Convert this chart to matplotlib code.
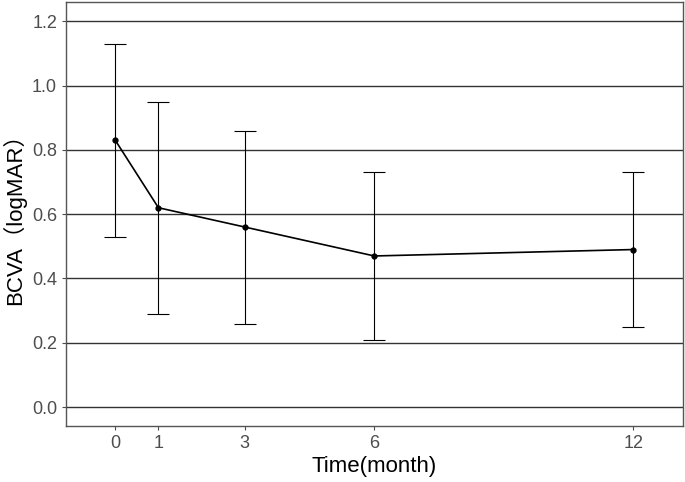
import matplotlib
matplotlib.use('Agg')
import matplotlib.pyplot as plt

plt.rcParams['font.family'] = ['Liberation Sans', 'Noto Sans CJK SC', 'DejaVu Sans']

#data
months = [0, 1, 3, 6, 12]
bcva_mean = [0.83, 0.62, 0.56, 0.47, 0.49]
bcva_upper = [1.13, 0.95, 0.86, 0.73, 0.73]
bcva_lower = [0.53, 0.29, 0.26, 0.21, 0.25]
y_ticks = [0.0, 0.2, 0.4, 0.6, 0.8, 1.0, 1.2]

err_low = [m - l for m, l in zip(bcva_mean, bcva_lower)]
err_up = [u - m for m, u in zip(bcva_mean, bcva_upper)]

#draw graph
fig = plt.figure(figsize=(6.85, 4.82), dpi=100)
ax = fig.add_axes([0.0964, 0.116, 0.9006, 0.88])

for y in y_ticks:
    ax.axhline(y, color='#333333', lw=1.0, zorder=1)

ax.errorbar(months, bcva_mean, yerr=[err_low, err_up], color='black',
            lw=1.2, elinewidth=0.8, capsize=8, capthick=0.8,
            marker='o', markersize=3.5, zorder=3)

ax.set_xlim(-1.14, 13.15)
ax.set_ylim(-0.059, 1.26)
ax.set_xticks(months)
ax.set_yticks(y_ticks)
ax.set_yticklabels([f'{v:.1f}' for v in y_ticks])
ax.tick_params(colors='#4d4d4d', labelcolor='#4d4d4d', labelsize=13, length=3, width=0.8)
for s in ax.spines.values():
    s.set_color('#555555')
    s.set_linewidth(1.0)

ax.set_xlabel('Time(month)', fontsize=16, color='black', labelpad=3)
ax.set_ylabel('BCVA（logMAR）', fontsize=16, color='black')

fig.savefig('out.png', dpi=100)
plt.close(fig)
